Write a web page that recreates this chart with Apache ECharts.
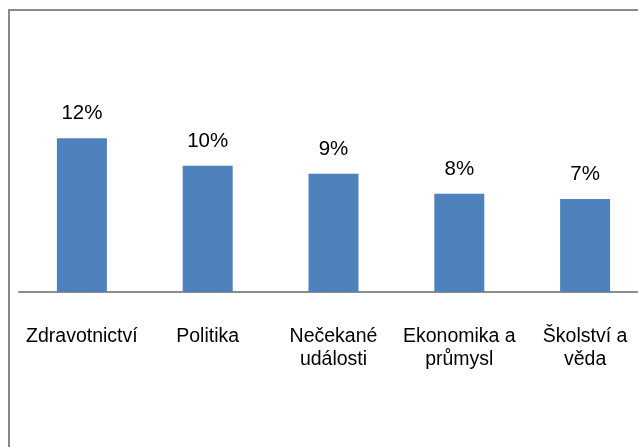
<!DOCTYPE html>
<html>
<head>
<meta charset="utf-8">
<script src="https://cdn.jsdelivr.net/npm/echarts@6/dist/echarts.min.js"></script>
<style>
html,body{margin:0;padding:0;background:#fff;overflow:hidden;width:638px;height:447px;}
#wrap{width:638px;height:447px;overflow:hidden;position:relative;}
#chart{width:680px;height:447px;position:absolute;left:0;top:0;}
</style>
</head>
<body>
<div id="wrap"><div id="chart"></div></div>
<script>
var categories = ['Zdravotnictví', 'Politika', 'Nečekané\nudálosti', 'Ekonomika a\nprůmysl', 'Školství a\nvěda'];
var values = [0.120, 0.0986, 0.0923, 0.0767, 0.0726];

var chart = echarts.init(document.getElementById('chart'), null, {renderer: 'canvas'});
var FONT = '"Liberation Sans", Arial, sans-serif';
chart.setOption({
  animation: false,
  backgroundColor: '#ffffff',
  graphic: [{
    type: 'rect',
    shape: {x: 9, y: 10, width: 720, height: 500},
    style: {fill: 'none', stroke: '#898989', lineWidth: 2},
    silent: true
  }],
  grid: {left: 19, top: 61.4, width: 629, height: 230.6, containLabel: false},
  xAxis: {
    type: 'category',
    data: categories,
    axisLine: {show: true, lineStyle: {color: '#8c8c8c', width: 2}},
    axisTick: {show: false},
    axisLabel: {
      interval: 0,
      margin: 33,
      color: '#000',
      fontFamily: FONT,
      fontSize: 19.5,
      lineHeight: 23,
      align: 'center'
    }
  },
  yAxis: {
    type: 'value',
    min: 0,
    max: 0.18,
    show: false,
    splitLine: {show: false}
  },
  series: [{
    type: 'bar',
    data: values,
    barWidth: 50,
    itemStyle: {color: '#4f81bd'},
    label: {
      show: true,
      position: 'top',
      distance: 13,
      color: '#000',
      fontFamily: FONT,
      fontSize: 20.5,
      lineHeight: 23,
      formatter: function (p) { return Math.round(p.value * 100) + '%'; }
    }
  }]
});
</script>
</body>
</html>
